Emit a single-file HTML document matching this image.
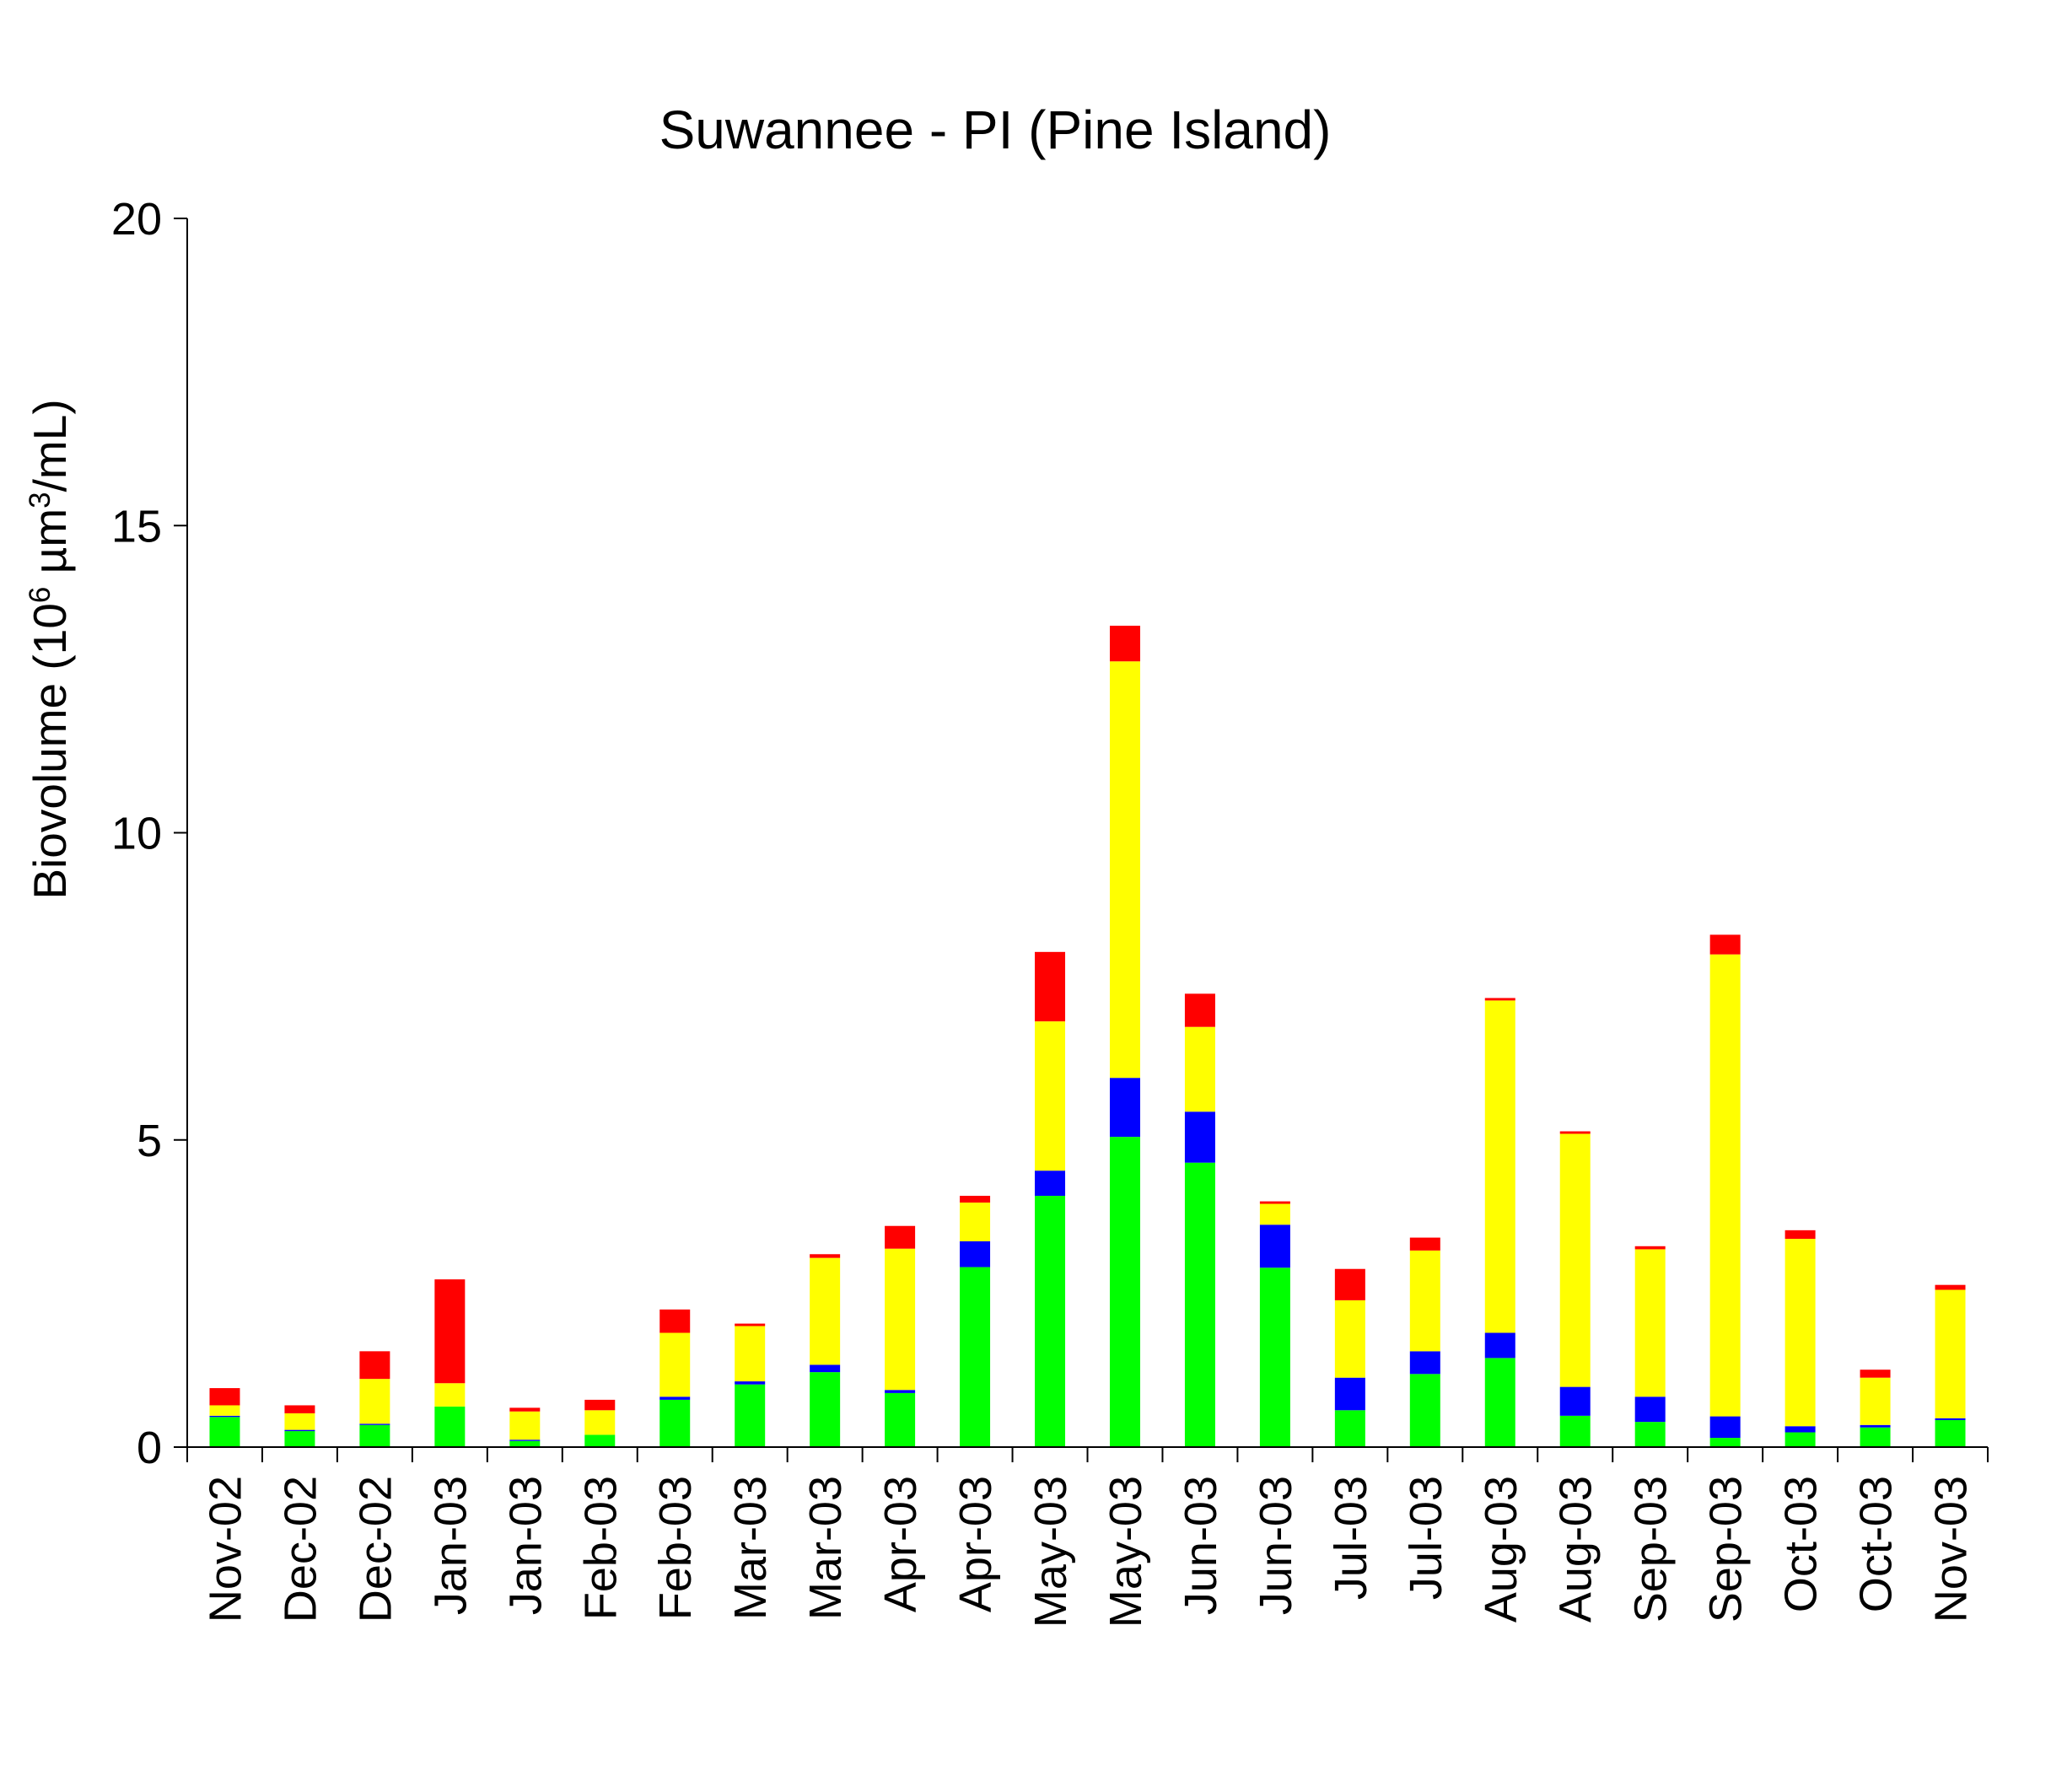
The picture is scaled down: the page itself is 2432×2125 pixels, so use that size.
<!DOCTYPE html>
<html><head><meta charset="utf-8"><style>
html,body{margin:0;padding:0;background:#fff;}
svg{display:block;font-family:"Liberation Sans",Arial,sans-serif;}
</style></head><body>
<svg id="chart" width="2432" height="2125" viewBox="0 0 2432 2125" xmlns="http://www.w3.org/2000/svg">
<text x="1180" y="176" font-size="64" text-anchor="middle">Suwannee - PI (Pine Island)</text>
<text transform="translate(78,770) rotate(-90)" font-size="55" text-anchor="middle">Biovolume (10<tspan baseline-shift="super" font-size="35">6</tspan> µm<tspan baseline-shift="super" font-size="35">3</tspan>/mL)</text>
<g id="plot"></g>
</svg>
<script>
const categories = ["Nov-02","Dec-02","Dec-02","Jan-03","Jan-03","Feb-03","Feb-03","Mar-03","Mar-03","Apr-03","Apr-03","May-03","May-03","Jun-03","Jun-03","Jul-03","Jul-03","Aug-03","Aug-03","Sep-03","Sep-03","Oct-03","Oct-03","Nov-03"];
const greenVals  = [0.49,0.26,0.36,0.66,0.10,0.20,0.77,1.02,1.22,0.88,2.93,4.09,5.05,4.63,2.92,0.60,1.19,1.45,0.51,0.41,0.15,0.24,0.32,0.44];
const blueVals   = [0.02,0.02,0.02,0.00,0.02,0.00,0.05,0.05,0.12,0.05,0.42,0.41,0.96,0.83,0.70,0.53,0.37,0.41,0.47,0.41,0.35,0.10,0.04,0.03];
const yellowVals = [0.17,0.27,0.73,0.38,0.46,0.40,1.04,0.90,1.74,2.30,0.63,2.43,6.78,1.38,0.34,1.26,1.64,5.41,4.12,2.40,7.52,3.05,0.77,2.09];
const redVals    = [0.28,0.13,0.45,1.69,0.06,0.17,0.38,0.04,0.06,0.37,0.11,1.13,0.58,0.54,0.04,0.51,0.21,0.04,0.04,0.05,0.32,0.14,0.13,0.08];
const yTicks = [0,5,10,15,20];

const NS="http://www.w3.org/2000/svg";
const plot=document.getElementById('plot');
const X0=222, X1=2357, Y0=1716, YTOP=259, YMAX=20;
const n=categories.length, step=(X1-X0)/n, bw=36;
function yScale(v){return Y0-(v/YMAX)*(Y0-YTOP);}
function xCenter(i){return X0+step*(i+0.5);}
function mk(tag,attrs){const e=document.createElementNS(NS,tag);for(const k in attrs)e.setAttribute(k,attrs[k]);plot.appendChild(e);return e;}

const series=[[greenVals,"#00ff00","green"],[blueVals,"#0000ff","blue"],[yellowVals,"#ffff00","yellow"],[redVals,"#ff0000","red"]];
for(let i=0;i<n;i++){
  let base=0;
  for(const [vals,col,nm] of series){
    const v=vals[i];
    if(v>0){
      const r=mk('rect',{x:xCenter(i)-bw/2,y:yScale(base+v),width:bw,height:yScale(base)-yScale(base+v),fill:col});
      
      
    }
    base+=v;
  }
}
const ya=mk('line',{x1:X0,y1:YTOP,x2:X0,y2:Y0,stroke:'#000','stroke-width':2});


const xa=mk('line',{x1:X0,y1:Y0,x2:X1,y2:Y0,stroke:'#000','stroke-width':2});


for(const t of yTicks){
  const y=yScale(t);
  const tk=mk('line',{x1:X0-16,y1:y,x2:X0,y2:y,stroke:'#000','stroke-width':2});
  
  
  const tl=mk('text',{x:X0-30,y:y+19,'font-size':54,'text-anchor':'end'});
  tl.textContent=t;
  
  
}
for(let i=0;i<=n;i++){
  const x=X0+step*i;
  const tk=mk('line',{x1:x,y1:Y0,x2:x,y2:Y0+18,stroke:'#000','stroke-width':2});
  
  
}
for(let i=0;i<n;i++){
  const x=xCenter(i)+19;
  const tl=mk('text',{transform:`translate(${x},1750) rotate(-90)`,'font-size':54,'text-anchor':'end'});
  tl.textContent=categories[i];
  
  
}
</script>
</body></html>
